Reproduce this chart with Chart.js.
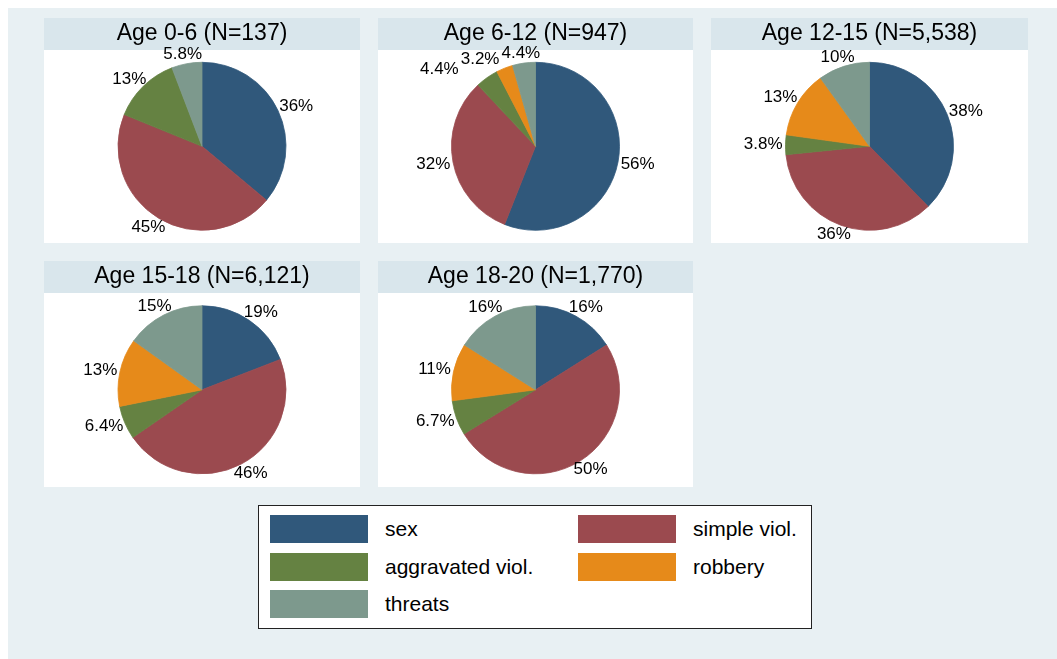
<!DOCTYPE html>
<html>
<head>
<meta charset="utf-8">
<script src="https://cdn.jsdelivr.net/npm/chart.js@4.4.0/dist/chart.umd.min.js"></script>
<style>
body { margin:0; background:#fff; font-family:"Liberation Sans", Arial, sans-serif; }
#page { position:relative; width:1057px; height:659px; overflow:hidden; }
#bg { position:absolute; left:8px; top:8px; right:0; bottom:0; background:#e8f0f3; }
.pie { position:absolute; }
#legend { position:absolute; left:258px; top:505px; width:552px; height:122px; border:1px solid #222; background:#fff; }
.item { position:absolute; height:28px; }
.sw { position:absolute; left:0; top:0; width:98px; height:28px; }
.lab { position:absolute; left:115px; top:0; line-height:28px; font-size:21px; color:#000; white-space:nowrap; }
</style>
</head>
<body>
<div id="page">
  <div id="bg"></div>
  <div id="legend"></div>
</div>
<script>
var categories = ['sex', 'simple viol.', 'aggravated viol.', 'robbery', 'threats'];
var colors = ['#30587b', '#9b4a4f', '#658242', '#e68a1a', '#7d998d'];
var groups = ['Age 0-6 (N=137)', 'Age 6-12 (N=947)', 'Age 12-15 (N=5,538)', 'Age 15-18 (N=6,121)', 'Age 18-20 (N=1,770)'];

// percent of cases, same order as categories
var age0_6 = [36, 45, 13, 0, 5.8];
var age6_12 = [56, 32, 4.4, 3.2, 4.4];
var age12_15 = [38, 36, 3.8, 13, 10];
var age15_18 = [19, 46, 6.4, 13, 15];
var age18_20 = [16, 50, 6.7, 11, 16];

var series = [age0_6, age6_12, age12_15, age15_18, age18_20];

// panel boxes: left, top, width, height
var panels = [
  [44, 18, 316, 225], [378, 18, 315, 225], [711, 18, 317, 225],
  [44, 261, 316, 226], [378, 261, 315, 226]
];
var MX = 14, MB = 24;
var FONT = '"Liberation Sans", Arial, sans-serif';

var panelBg = {
  id: 'panelBg',
  beforeDraw: function(chart) {
    var ctx = chart.ctx;
    var w = chart.width - 2 * MX, h = chart.height - MB;
    ctx.save();
    ctx.fillStyle = '#ffffff';
    ctx.fillRect(MX, 0, w, h);
    ctx.fillStyle = '#d9e6ec';
    ctx.fillRect(MX, 0, w, Math.round(chart.titleBlock.bottom));
    ctx.restore();
  }
};

var pctLabels = {
  id: 'pctLabels',
  afterDatasetsDraw: function(chart) {
    var ctx = chart.ctx;
    var meta = chart.getDatasetMeta(0);
    var vals = chart.data.datasets[0].data;
    ctx.save();
    ctx.font = '17px ' + FONT;
    ctx.fillStyle = '#000';
    ctx.textAlign = 'center';
    ctx.textBaseline = 'middle';
    var boxes = [];
    for (var i = vals.length - 1; i >= 0; i--) {
      if (!vals[i]) continue;
      var p = meta.data[i].getProps(['x', 'y', 'startAngle', 'endAngle', 'outerRadius'], true);
      var a = (p.startAngle + p.endAngle) / 2;
      var txt = vals[i] + '%';
      var w = ctx.measureText(txt).width;
      var dx = Math.cos(a), dy = Math.sin(a);
      var b = {
        x: p.x + dx * (p.outerRadius + 3) + dx * w / 2,
        y: p.y + dy * (p.outerRadius + 3) + dy * 7,
        w: w, h: 14, t: txt, dx: dx, dy: dy
      };
      // push apart labels that collide
      boxes.forEach(function(o) {
        var ox = (b.w + o.w) / 2 + 2 - Math.abs(b.x - o.x);
        var oy = (b.h + o.h) / 2 - Math.abs(b.y - o.y);
        if (ox > 0 && oy > 0) {
          if (Math.abs(b.dy) > Math.abs(b.dx)) b.x += (b.x < o.x ? -ox : ox);
          else b.y += (b.y < o.y ? -oy : oy);
        }
      });
      boxes.push(b);
    }
    boxes.forEach(function(b) { ctx.fillText(b.t, b.x, b.y); });
    ctx.restore();
  }
};

var page = document.getElementById('page');
for (var k = 0; k < series.length; k++) {
  var pb = panels[k];
  var cv = document.createElement('canvas');
  cv.className = 'pie';
  cv.width = pb[2] + 2 * MX;
  cv.height = pb[3] + MB;
  cv.style.left = (pb[0] - MX) + 'px';
  cv.style.top = pb[1] + 'px';
  cv.style.width = cv.width + 'px';
  cv.style.height = cv.height + 'px';
  page.appendChild(cv);
  new Chart(cv, {
    type: 'pie',
    data: {
      labels: categories,
      datasets: [{
        data: series[k],
        backgroundColor: colors,
        borderColor: colors,
        borderWidth: function(c) { return c.raw ? 0.8 : 0; }
      }]
    },
    options: {
      responsive: false,
      animation: false,
      devicePixelRatio: 1,
      radius: 84,
      layout: { padding: { left: MX, right: MX, top: 0, bottom: MB } },
      plugins: {
        legend: { display: false },
        tooltip: { enabled: false },
        title: {
          display: true,
          text: groups[k],
          color: '#000',
          font: { family: FONT, size: 23, weight: 'normal', lineHeight: 1.2 },
          padding: { top: 2, bottom: 2 }
        }
      }
    },
    plugins: [panelBg, pctLabels]
  });
}

// legend, two columns
var leg = document.getElementById('legend');
categories.forEach(function(c, i) {
  var it = document.createElement('div');
  it.className = 'item';
  it.style.left = (i % 2 ? 319 : 11) + 'px';
  it.style.top = (9 + Math.floor(i / 2) * 37.5) + 'px';
  it.innerHTML = '<div class="sw" style="background:' + colors[i] + '"></div><div class="lab">' + c + '</div>';
  leg.appendChild(it);
});
</script>
</body>
</html>
